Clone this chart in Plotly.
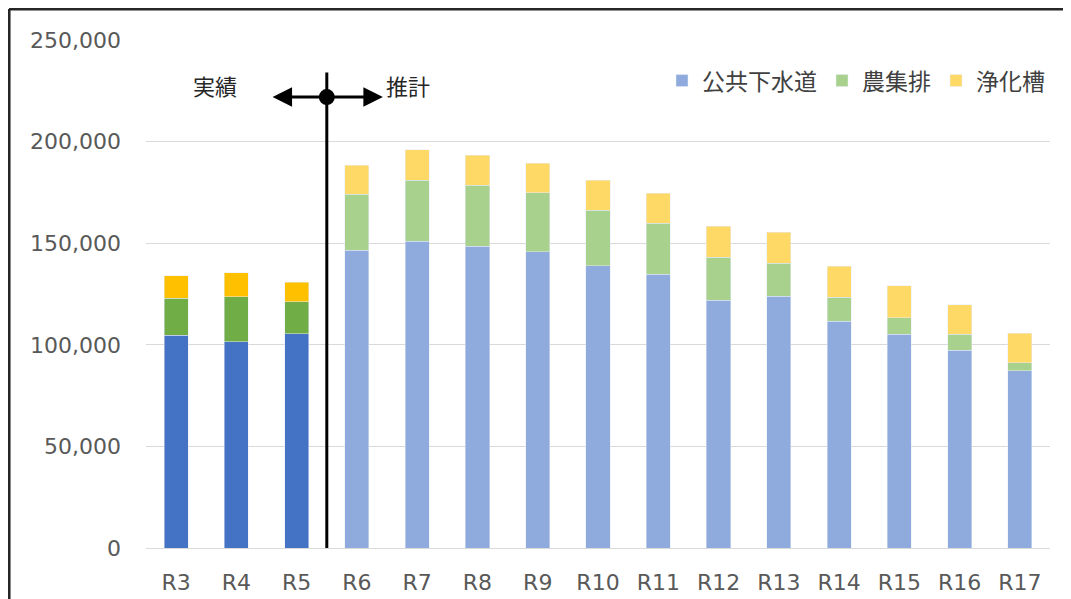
import plotly.graph_objects as go

# データ
years = ["R3", "R4", "R5", "R6", "R7", "R8", "R9", "R10", "R11", "R12", "R13", "R14", "R15", "R16", "R17"]
n_actual = 3  # R3〜R5 は実績

sewer = [104800, 101500, 105500, 146500, 151000, 148600, 145700, 138800, 134800, 122000, 124000, 111700, 105300, 97400, 87200]
rural = [18200, 22100, 15800, 27500, 30000, 30000, 29100, 27500, 25100, 21000, 16100, 11600, 8000, 7900, 4000]
septic = [11000, 11800, 9500, 14400, 15000, 14600, 14500, 14700, 14800, 15400, 15200, 15400, 15700, 14300, 14400]

series_names = ["公共下水道", "農集排", "浄化槽"]
actual_colors = ["#4472C4", "#70AD47", "#FFC000"]
forecast_colors = ["#8FAADC", "#A9D18E", "#FFD966"]

FONT = "DejaVu Sans, Noto Sans CJK JP, sans-serif"

fig = go.Figure()

for name, vals, c_act, c_fc in zip(series_names, [sewer, rural, septic], actual_colors, forecast_colors):
    fig.add_trace(go.Bar(
        x=years[:n_actual], y=vals[:n_actual],
        marker_color=c_act, name=name, showlegend=False,
    ))
    fig.add_trace(go.Bar(
        x=years[n_actual:], y=vals[n_actual:],
        marker_color=c_fc, name=name,
    ))

# 実績/推計 の区切り線
split = n_actual - 0.5
fig.add_shape(type="line", xref="x", yref="y", x0=split, x1=split, y0=0, y1=234000,
              line=dict(color="black", width=3))
fig.add_shape(type="circle", xref="x", yref="y", xsizemode="pixel", ysizemode="pixel",
              xanchor=split, yanchor=221900, x0=-8, x1=8, y0=-8, y1=8,
              fillcolor="black", line=dict(color="black", width=0))
for end in [split - 0.9, split + 0.93]:
    fig.add_annotation(x=end, y=221900, ax=split, ay=221900, xref="x", yref="y",
                       axref="x", ayref="y", showarrow=True, arrowhead=2,
                       arrowsize=1.3, arrowwidth=3, arrowcolor="black", text="")

fig.add_annotation(x=0.65, y=226500, xref="x", yref="y", text="実績", showarrow=False,
                   font=dict(size=22, color="#262626"))
fig.add_annotation(x=3.85, y=226500, xref="x", yref="y", text="推計", showarrow=False,
                   font=dict(size=22, color="#262626"))

# 外枠 (上・左)
fig.add_shape(type="line", xref="paper", yref="paper", x0=-0.1515, x1=-0.1515, y0=-0.2, y1=1.061,
              line=dict(color="#262626", width=3))
fig.add_shape(type="line", xref="paper", yref="paper", x0=-0.1515, x1=1.1, y0=1.061, y1=1.061,
              line=dict(color="#262626", width=3))

# ページ余白 (8px) を考慮した余白
fig.update_layout(
    barmode="stack",
    bargap=0.6,
    width=1071, height=599,
    margin=dict(l=138, r=29, t=32, b=59, autoexpand=False),
    paper_bgcolor="white",
    plot_bgcolor="white",
    font=dict(family=FONT, color="#595959", size=22),
    legend=dict(orientation="h", x=1.0, xanchor="right", y=0.92, yanchor="middle",
                traceorder="normal", font=dict(size=23, color="#404040"),
                bgcolor="rgba(0,0,0,0)", itemwidth=30),
)
fig.update_xaxes(showgrid=False, showline=False, ticks="", ticklabelstandoff=19,
                 automargin=False, tickfont=dict(size=22, color="#595959"))
fig.update_yaxes(range=[0, 250000], dtick=50000, tickformat=",", showgrid=True,
                 gridcolor="#D9D9D9", gridwidth=1, zeroline=True, zerolinecolor="#D9D9D9",
                 zerolinewidth=1, showline=False, ticks="", ticklabelstandoff=24,
                 automargin=False, tickfont=dict(size=22, color="#595959"))

fig.write_html("out.html")
